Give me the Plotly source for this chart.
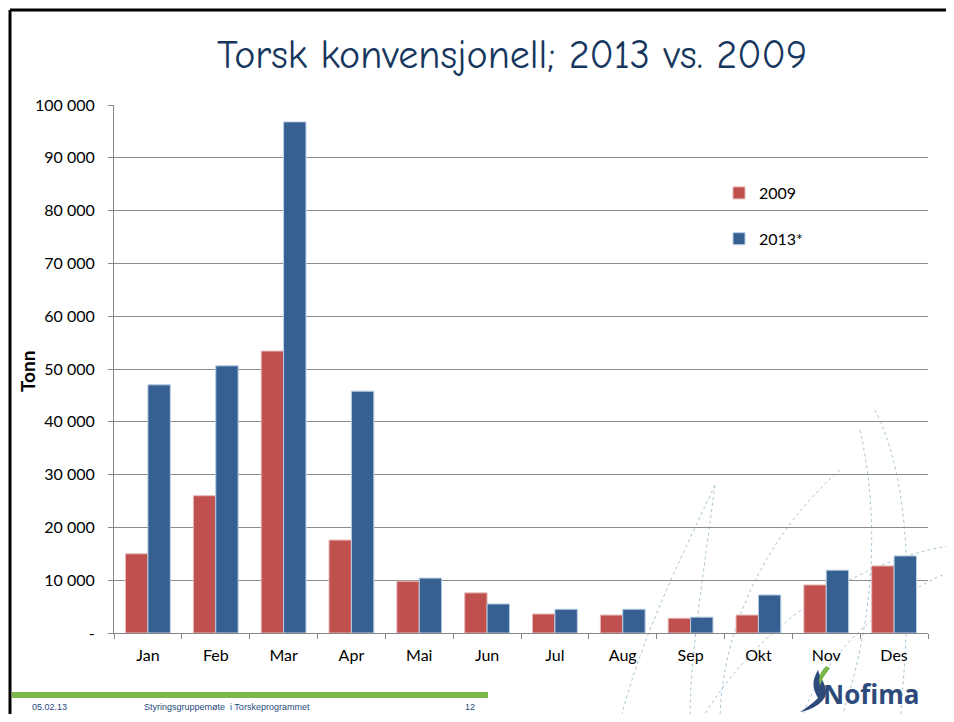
import plotly.graph_objects as go

months = ["Jan", "Feb", "Mar", "Apr", "Mai", "Jun", "Jul", "Aug", "Sep", "Okt", "Nov", "Des"]
v2009 = [15000, 26000, 53400, 17600, 9800, 7600, 3600, 3400, 2800, 3400, 9100, 12700]
v2013 = [47000, 50600, 96800, 45800, 10400, 5500, 4500, 4500, 3000, 7200, 11900, 14600]
ytick_vals = [0, 10000, 20000, 30000, 40000, 50000, 60000, 70000, 80000, 90000, 100000]
ytick_text = ["-", "10 000", "20 000", "30 000", "40 000", "50 000", "60 000",
              "70 000", "80 000", "90 000", "100 000"]

# page has an 8px body margin; the figure is sized to fit exactly inside it
OFF = 8
PAGE_W, PAGE_H = 954, 722
W, H = PAGE_W - 2 * OFF, PAGE_H - 2 * OFF
# plot area in page pixels
X0, X1, Y0, Y1 = 114, 928, 105, 633
L, R, T, B = X0 - OFF, W - (X1 - OFF), Y0 - OFF, H - (Y1 - OFF)
PW, PH = X1 - X0, Y1 - Y0


def px(x):
    return (x - X0) / PW


def py(y):
    return (Y1 - y) / PH


FONT = "Lato, 'Open Sans', sans-serif"

fig = go.Figure()
fig.add_trace(go.Bar(name="2009", x=months, y=v2009, legendgroup="a",
                     marker=dict(color="#C0504D", line=dict(color="#E6B9B8", width=1))))
fig.add_trace(go.Bar(name="2013*", x=months, y=v2013, legendgroup="b",
                     marker=dict(color="#376092", line=dict(color="#B9CDE5", width=1))))

shapes = []
# decorative dashed curves (background)
curves = [
    "M 875 410 C 905 470, 915 560, 900 722",
    "M 860 430 C 880 520, 875 620, 840 722",
    "M 715 485 C 680 560, 640 640, 620 722",
    "M 715 485 C 700 600, 690 660, 690 722",
    "M 840 470 C 760 540, 720 640, 720 722",
    "M 954 545 C 860 560, 760 620, 700 722",
    "M 954 570 C 880 600, 820 660, 800 722",
]


def conv(path):
    toks = path.replace(",", " ").split()
    out = []
    i = 0
    while i < len(toks):
        t = toks[i]
        if t.isalpha():
            out.append(t)
            i += 1
        else:
            x = float(toks[i]); y = float(toks[i + 1])
            out.append(f"{px(x):.4f},{py(y):.4f}")
            i += 2
    return " ".join(out)


for c in curves:
    shapes.append(dict(type="path", xref="paper", yref="paper", path=conv(c),
                       line=dict(color="#A9C6D6", width=1, dash="dot"), layer="below"))

# slide border
shapes.append(dict(type="line", xref="paper", yref="paper", x0=px(10), x1=px(954), y0=py(10), y1=py(10),
                   line=dict(color="#000000", width=3)))
shapes.append(dict(type="line", xref="paper", yref="paper", x0=px(10), x1=px(10), y0=py(10), y1=py(722),
                   line=dict(color="#000000", width=3)))
# green footer bar
shapes.append(dict(type="rect", xref="paper", yref="paper", x0=px(12), x1=px(488), y0=py(692), y1=py(698),
                   fillcolor="#7AB648", line=dict(width=0)))
# logo swoosh
shapes.append(dict(type="path", xref="paper", yref="paper",
                   path=conv("M 818 670 C 812 680, 812 688, 818 698 C 812 704, 806 708, 800 712 C 812 710, 826 702, 826 692 C 826 684, 820 678, 818 670 Z"),
                   fillcolor="#2E4A7A", line=dict(width=0)))
shapes.append(dict(type="path", xref="paper", yref="paper",
                   path=conv("M 826 666 C 820 672, 818 678, 820 686 C 822 678, 826 674, 830 668 Z"),
                   fillcolor="#7AB648", line=dict(width=0)))

annotations = [
    dict(text="Torsk konvensjonell; 2013 vs. 2009", xref="paper", yref="paper",
         x=px(512), y=py(55), xanchor="center", yanchor="middle", showarrow=False,
         font=dict(family="'Comic Neue', 'Comic Sans MS', 'Noto Sans', sans-serif", size=40, color="#17375E")),
    dict(text="<b>Tonn</b>", xref="paper", yref="paper", x=px(28), y=py(372), xanchor="center",
         yanchor="middle", textangle=-90, showarrow=False,
         font=dict(family=FONT, size=19, color="#000000")),
    dict(text="05.02.13", xref="paper", yref="paper", x=px(30), y=py(707), xanchor="left", yanchor="middle",
         showarrow=False, font=dict(family="Liberation Sans, Arial", size=9, color="#1F497D")),
    dict(text="Styringsgruppemøte  i Torskeprogrammet", xref="paper", yref="paper", x=px(142), y=py(707),
         xanchor="left", yanchor="middle", showarrow=False,
         font=dict(family="Liberation Sans, Arial", size=9, color="#1F497D")),
    dict(text="12", xref="paper", yref="paper", x=px(470), y=py(707), xanchor="center", yanchor="middle",
         showarrow=False, font=dict(family="Liberation Sans, Arial", size=9, color="#1F497D")),
    dict(text="<b>Nofima</b>", xref="paper", yref="paper", x=px(821), y=py(694), xanchor="left", yanchor="middle",
         showarrow=False, font=dict(family="'Open Sans', sans-serif", size=26, color="#2E4A7A")),
]

fig.update_layout(
    width=W, height=H,
    margin=dict(l=L, r=R, t=T, b=B, pad=0),
    paper_bgcolor="white", plot_bgcolor="white",
    barmode="group", bargap=0.34, bargroupgap=0,
    font=dict(family=FONT, size=16, color="#000000"),
    legend=dict(x=px(719), y=py(176), xanchor="left", yanchor="top", tracegroupgap=22, itemwidth=30,
                font=dict(family=FONT, size=16), bgcolor="rgba(0,0,0,0)"),
    shapes=shapes, annotations=annotations,
    xaxis=dict(showline=True, linecolor="#868686", linewidth=1, ticks="outside", tickson="boundaries",
               ticklen=5, tickcolor="#868686", showgrid=False, tickfont=dict(size=16),
               ticklabelstandoff=8, range=[-0.5, 11.5]),
    yaxis=dict(range=[0, 100000], tickvals=ytick_vals, ticktext=ytick_text, showline=True,
               linecolor="#868686", linewidth=1, ticks="outside", ticklen=5, tickcolor="#868686",
               showgrid=True, gridcolor="#8C8C8C", gridwidth=1, zeroline=False,
               tickfont=dict(size=16), ticklabelstandoff=10),
)

fig.write_html("out.html")
